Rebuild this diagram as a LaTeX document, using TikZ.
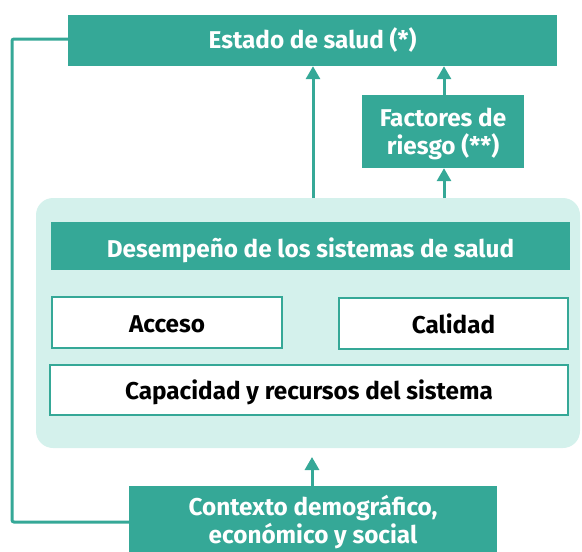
\documentclass[tikz,border=0pt]{standalone}
\usepackage{fontspec}
\setmainfont{Fira Sans}
\usetikzlibrary{arrows.meta}
\definecolor{teal1}{HTML}{35A897}
\definecolor{panel}{HTML}{D4F1EC}
\begin{document}
\begin{tikzpicture}[x=1pt,y=-1pt,
  boxfont/.style={font=\bfseries\fontsize{24.3}{28}\selectfont},
  darkbox/.style={boxfont,fill=teal1,draw=none,text=white,align=center,inner sep=0pt},
  whitebox/.style={boxfont,fill=white,draw=teal1,line width=1.5pt,text=black,inner sep=0pt,text height=19.7pt,text depth=0pt},
  twoline/.style={text height=46pt,text depth=0.2pt},
  arr/.style={draw=teal1,line width=3pt,-{Triangle[length=13pt,width=14pt]}},
  conn/.style={draw=teal1,line width=3pt,rounded corners=2pt}]
\useasboundingbox (0,0) rectangle (582,552);
% panel
\fill[panel,rounded corners=17pt] (36,198) rectangle (580,448);
\node[darkbox,minimum width=489pt,minimum height=51pt,text height=16.7pt,text depth=0pt] (estado) at (312.5,40.5) {Estado de salud (*)};
\node[darkbox,twoline,minimum width=162pt,minimum height=73pt] (factores) at (443,131.5) {Factores de\\riesgo (**)};
\node[darkbox,minimum width=519pt,minimum height=48pt,text height=22.7pt,text depth=0pt] (desemp) at (310.5,246) {Desempe\~no de los sistemas de salud};
\node[whitebox,minimum width=230pt,minimum height=51pt] (acceso) at (167,322.5) {Acceso};
\node[whitebox,minimum width=229pt,minimum height=51pt] (calidad) at (453.5,323.5) {Calidad};
\node[whitebox,minimum width=518pt,minimum height=50pt] (capac) at (309,390) {Capacidad y recursos del sistema};
\node[darkbox,twoline,minimum width=368pt,minimum height=69pt] (contexto) at (313,520.5) {Contexto demogr\'afico,\\econ\'omico y social};
\coordinate (ptop) at (313,198);
\coordinate (pbot) at (312,448);
\coordinate (ftop) at (444,198);
\draw[arr] (ptop) -- (ptop |- estado.south);
\draw[arr] (ftop) -- (ftop |- factores.south);
\draw[arr] (ftop |- factores.north) -- (ftop |- estado.south);
\draw[arr] (pbot |- contexto.north) -- ([yshift=-9pt]pbot);
\draw[conn] (contexto.west |- 0,522) -- (12,522) -- (12,39) -- (estado.west |- 0,39);
\end{tikzpicture}
\end{document}
